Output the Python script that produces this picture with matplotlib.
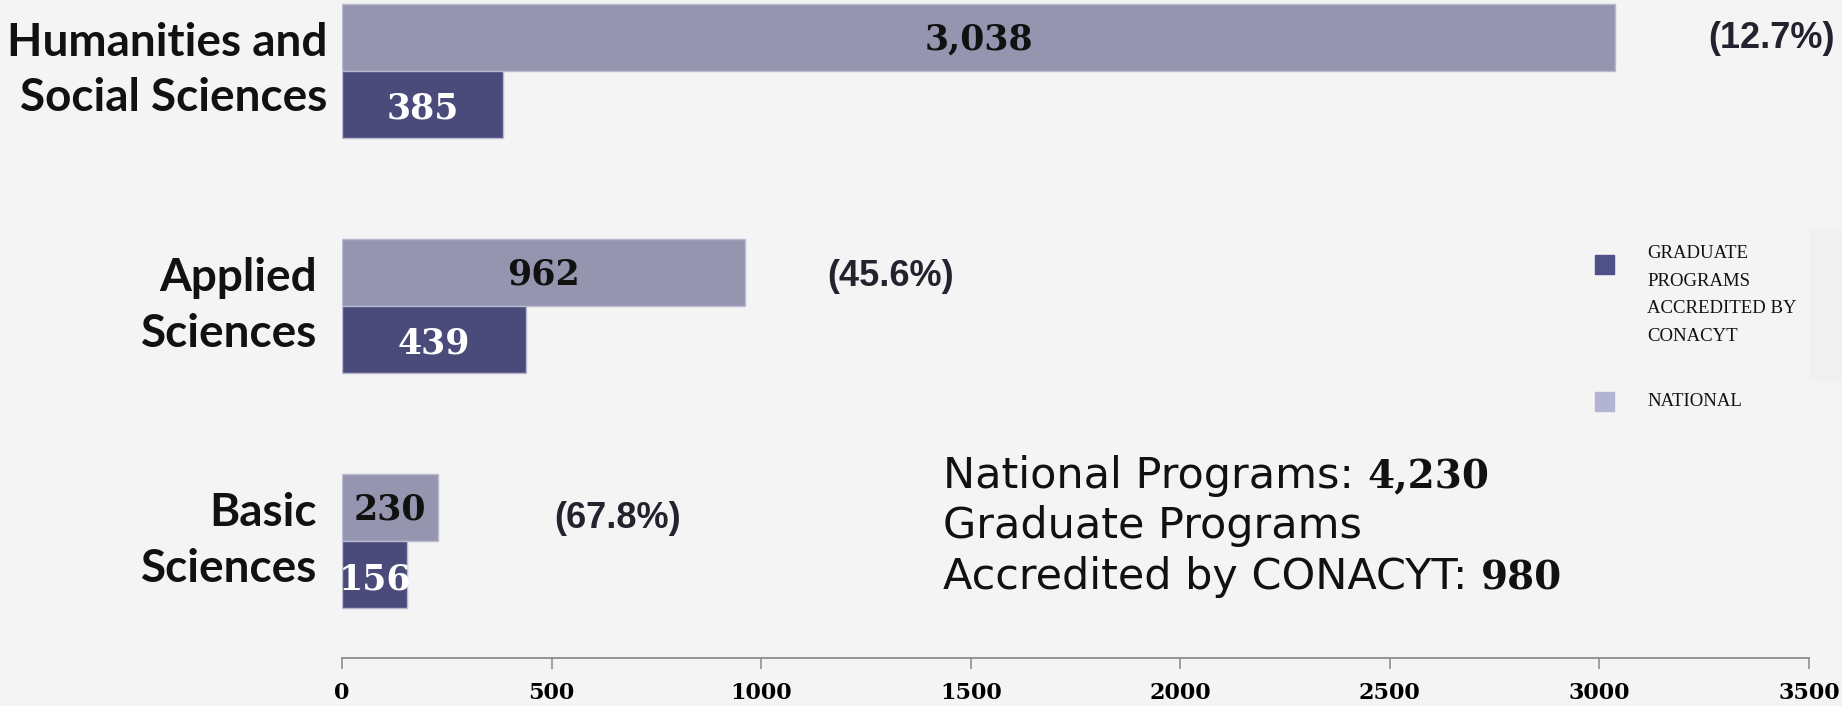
import matplotlib.pyplot as plt
from matplotlib.patches import Rectangle

# data
categories = ["Humanities and\nSocial Sciences", "Applied\nSciences", "Basic\nSciences"]
national = [3038, 962, 230]
accredited = [385, 439, 156]
shares = ["(12.7%)", "(45.6%)", "(67.8%)"]
series_names = ["GRADUATE\nPROGRAMS\nACCREDITED BY\nCONACYT", "NATIONAL"]
total_national = "4,230"
total_accredited = "980"
xticks = [0, 500, 1000, 1500, 2000, 2500, 3000, 3500]

# layout only
share_x = [3410, 1309, 658]          # share labels, data units
share_dy = [0.005, 0.02, 0.047]
cat_pad = [15, 25, 25]               # px gap between category label and axis

BG = "#f4f4f4"
C_NAT = "#9595b0"
C_ACC = "#4a4a7b"
W, H = 1842, 706

fig = plt.figure(figsize=(W / 100, H / 100), dpi=100, facecolor=BG)
ax = fig.add_axes([342 / W, 48 / H, 1467 / W, 658 / H])
ax.set_facecolor(BG)

h = 0.285
ys = list(range(len(categories)))
ax.barh([y - h / 2 for y in ys], national, height=h, color=C_NAT,
        edgecolor="#b9b9d0", linewidth=1)
ax.barh([y + h / 2 for y in ys], accredited, height=h, color=C_ACC,
        edgecolor="#b9b9d0", linewidth=1)

ax.set_xlim(0, 3500)
ax.set_ylim(2.498, -0.3)
ax.set_xticks(xticks)
ax.set_xticklabels([str(t) for t in xticks], family="DejaVu Serif",
                   fontweight="bold", fontsize=16)
ax.tick_params(axis="x", length=8, width=1.3, color="#999999", pad=9)
ax.set_yticks([])
for s in ["top", "right", "left"]:
    ax.spines[s].set_visible(False)
ax.spines["bottom"].set_color("#8c8c8c")
ax.spines["bottom"].set_linewidth(1.3)

for i, y in enumerate(ys):
    ax.annotate(categories[i], (0, y), xytext=(-cat_pad[i] * 0.72, 0),
                textcoords="offset points", ha="right", va="center",
                multialignment="right", family="Lato", fontweight="bold",
                fontsize=33, linespacing=1.4, color="#111111")
    ax.text(national[i] / 2, y - h / 2 + 0.01, f"{national[i]:,}", ha="center",
            va="center", family="DejaVu Serif", fontweight="bold", fontsize=25,
            color="#111111")
    ax.text(accredited[i] / 2, y + h / 2 + 0.02, f"{accredited[i]:,}", ha="center",
            va="center", family="DejaVu Serif", fontweight="bold", fontsize=25,
            color="white")
    ax.text(share_x[i], y - h / 2 + share_dy[i], shares[i], ha="center",
            va="center", family="Liberation Sans", fontweight="bold", fontsize=26,
            color="#23232f", clip_on=False)

# summary text
tx = 943 / W
lines_y = [1 - 488 / H, 1 - 538 / H, 1 - 589 / H]
txt_kw = dict(family="DejaVu Sans", fontsize=31, va="baseline", color="#111111")
t1 = fig.text(tx, lines_y[0], "National Programs: ", **txt_kw)
fig.text(tx, lines_y[1], "Graduate Programs", **txt_kw)
t3 = fig.text(tx, lines_y[2], "Accredited by CONACYT: ", **txt_kw)
fig.canvas.draw()
r = fig.canvas.get_renderer()
for t, val in [(t1, total_national), (t3, total_accredited)]:
    bb = t.get_window_extent(r)
    fig.text(bb.x1 / fig.bbox.width, t.get_position()[1], val,
             family="DejaVu Serif", fontweight="bold", fontsize=28,
             va="baseline", color="#111111")

# legend
fig.add_artist(Rectangle((1627 / W, 1 - 380 / H), 215 / W, 152 / H,
                         transform=fig.transFigure, color="#f0f0f0", zorder=0))
fig.add_artist(Rectangle((1627 / W, 1 - 407 / H), 166 / W, 27 / H,
                         transform=fig.transFigure, color="#f0f0f0", zorder=0))
leg_colors = ["#4f5088", "#b3b3d3"]
mark_top = [255, 392]
text_top = [245, 393]
for name, c, mt, tt in zip(series_names, leg_colors, mark_top, text_top):
    fig.add_artist(Rectangle((1595 / W, 1 - (mt + 19) / H), 19 / W, 19 / H,
                             transform=fig.transFigure, color=c))
    fig.text(1647 / W, 1 - tt / H, name, family="Liberation Serif", fontsize=13.5,
             va="top", linespacing=1.82, color="#111111")

fig.savefig("out.png", dpi=100, facecolor=BG)
